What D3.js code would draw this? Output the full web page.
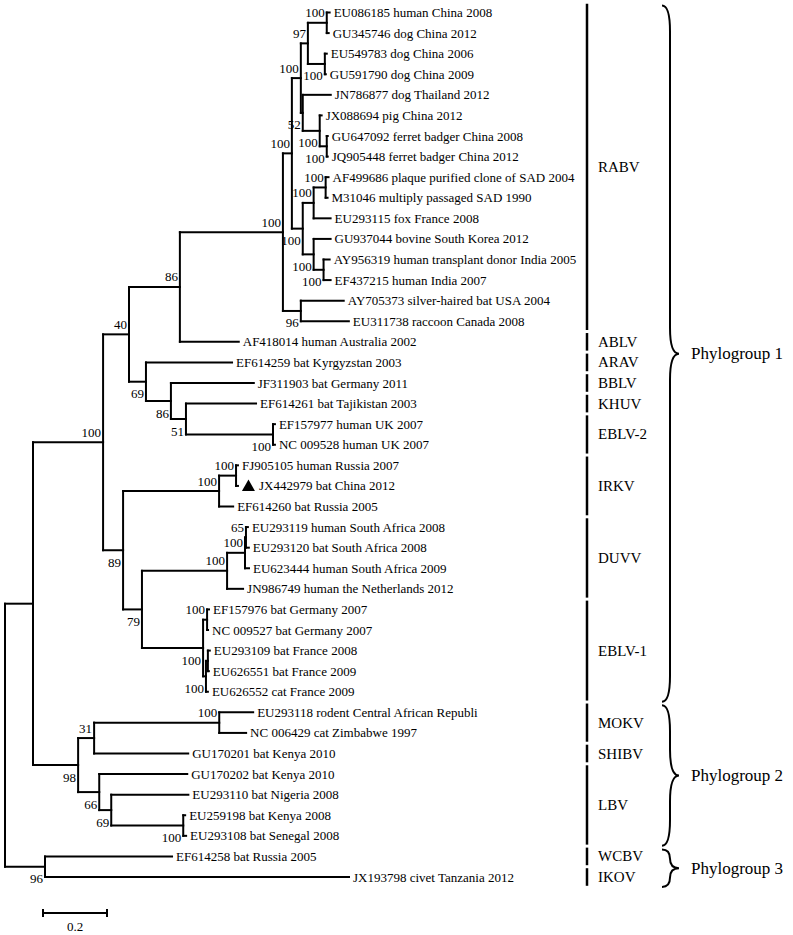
<!DOCTYPE html>
<html><head><meta charset="utf-8">
<script src="https://cdn.jsdelivr.net/npm/d3@7"></script>
<style>body{margin:0;background:#fff} svg{display:block}</style>
</head><body><svg id="c" width="793" height="935"></svg>
<script>
// internal nodes: [id, parent, branch length, bootstrap]
const internalNodes = [
 ["root", null, 0, null],
 ["PG12","root",0.0875,null],
 ["PG3","root",0.125,96],
 ["PG1","PG12",0.219,100],
 ["N98","PG12",0.141,98],
 ["N40","PG1",0.081,40],
 ["N89","PG1",0.0625,89],
 ["N86a","N40",0.159,86],
 ["N69","N40",0.053,69],
 ["RABV","N86a",0.322,100],
 ["U","RABV",0.028,100],
 ["N96","RABV",0.056,96],
 ["A4","U",0.028,100],
 ["S","U",0.034,100],
 ["A2","A4",0.022,97],
 ["N52","A4",0.006,52],
 ["A1","A2",0.059,100],
 ["A3","A2",0.053,100],
 ["A6","N52",0.053,100],
 ["A7","A6",0.022,100],
 ["S1","S",0.034,100],
 ["S2","S",0.034,100],
 ["S1a","S1",0.0375,100],
 ["S2a","S2",0.031,100],
 ["N86b","N69",0.078,86],
 ["N51","N86b",0.047,51],
 ["EBLV2","N51",0.272,100],
 ["IRKV","N89",0.300,100],
 ["IRKVi","IRKV",0.053,100],
 ["N79","N89",0.059,79],
 ["DUVV","N79",0.266,100],
 ["DUVVa","DUVV",0.056,100],
 ["DUVVb","DUVVa",0.003,65],
 ["EBLV1","N79",0.191,100],
 ["E1","EBLV1",0.0125,100],
 ["E2","EBLV1",0.009,100],
 ["E2a","E2",0.006,null],
 ["N31","N98",0.05,31],
 ["MOKV","N31",0.391,100],
 ["N66","N98",0.066,66],
 ["N69b","N66",0.0375,69],
 ["L100","N69b",0.225,100]
];
// tips in display order: [label, parent, branch length]
const tips = [
 ["EU086185 human China 2008","A1",0.009],
 ["GU345746 dog China 2012","A1",0.006],
 ["EU549783 dog China 2006","A3",0.006],
 ["GU591790 dog China 2009","A3",0.003],
 ["JN786877 dog Thailand 2012","N52",0.0875],
 ["JX088694 pig China 2012","A6",0.006],
 ["GU647092 ferret badger China 2008","A7",0.003],
 ["JQ905448 ferret badger China 2012","A7",0.003],
 ["AF499686 plaque purified clone of SAD 2004","S1a",0.009],
 ["M31046 multiply passaged SAD 1990","S1a",0.006],
 ["EU293115 fox France 2008","S1",0.053],
 ["GU937044 bovine South Korea 2012","S2",0.053],
 ["AY956319 human transplant donor India 2005","S2a",0.019],
 ["EF437215 human India 2007","S2a",0.022],
 ["AY705373 silver-haired bat USA 2004","N96",0.134],
 ["EU311738 raccoon Canada 2008","N96",0.150],
 ["AF418014 human Australia 2002","N86a",0.184],
 ["EF614259 bat Kyrgyzstan 2003","N69",0.269],
 ["JF311903 bat Germany 2011","N86b",0.259],
 ["EF614261 bat Tajikistan 2003","N51",0.219],
 ["EF157977 human UK 2007","EBLV2",0.006],
 ["NC 009528 human UK 2007","EBLV2",0.006],
 ["FJ905105 human Russia 2007","IRKVi",0.006],
 ["JX442979 bat China 2012","IRKVi",0.006],
 ["EF614260 bat Russia 2005","IRKV",0.044],
 ["EU293119 human South Africa 2008","DUVVb",0.006],
 ["EU293120 bat South Africa 2008","DUVVb",0.009],
 ["EU623444 human South Africa 2009","DUVVa",0.0125],
 ["JN986749 human the Netherlands 2012","DUVV",0.05],
 ["EF157976 bat Germany 2007","E1",0.006],
 ["NC 009527 bat Germany 2007","E1",0.003],
 ["EU293109 bat France 2008","E2a",0.006],
 ["EU626551 bat France 2009","E2a",0.003],
 ["EU626552 cat France 2009","E2",0.006],
 ["EU293118 rodent Central African Republi","MOKV",0.106],
 ["NC 006429 cat Zimbabwe 1997","MOKV",0.084],
 ["GU170201 bat Kenya 2010","N31",0.294],
 ["GU170202 bat Kenya 2010","N66",0.275],
 ["EU293110 bat Nigeria 2008","N69b",0.241],
 ["EU259198 bat Kenya 2008","L100",0.006],
 ["EU293108 bat Senegal 2008","L100",0.009],
 ["EF614258 bat Russia 2005","PG3",0.397],
 ["JX193798 civet Tanzania 2012","PG3",0.95]
];
const markedTip = "JX442979 bat China 2012";
const cladeNames = ["RABV","ABLV","ARAV","BBLV","KHUV","EBLV-2","IRKV","DUVV","EBLV-1","MOKV","SHIBV","LBV","WCBV","IKOV"];
const cladeSizes = [16,1,1,1,1,2,3,4,5,2,1,4,1,1];
const groupNames = ["Phylogroup 1","Phylogroup 2","Phylogroup 3"];
const groupSizes = [34,7,2];
const scaleBarValue = 0.2;

// ---- style / layout ----
const labelAbove = new Set(["A1","A2","A4","U","S1","S1a","RABV","N86a","N40","PG1","IRKV","IRKVi","DUVV","DUVVa","DUVVb","E1","N31","MOKV"]);
const serif = "'Liberation Serif','Times New Roman',serif";
const svg = d3.select("#c");

const nodes = internalNodes.map(d=>({id:d[0],parent:d[1],len:d[2],boot:d[3]}))
  .concat(tips.map(d=>({id:d[0],parent:d[1],len:d[2],boot:null,tip:true})));
const root = d3.stratify().id(d=>d.id).parentId(d=>d.parent)(nodes);
const tipIndex = new Map(tips.map((d,i)=>[d[0],i]));

const x = d3.scaleLinear().domain([0,1]).range([5,325]);
const y = d3.scaleLinear().domain([0,tips.length-1]).range([12.5,877]);

root.eachBefore(n=>{ n.dist = (n.parent? n.parent.dist:0) + n.data.len; n.px = x(n.dist); });
root.eachAfter(n=>{ n.py = n.children ? d3.mean(n.children,c=>c.py) : y(tipIndex.get(n.id)); });

const g = svg.append("g").attr("stroke","#000").attr("stroke-width",2).attr("stroke-linecap","square").attr("fill","none");
root.descendants().forEach(n=>{
  if(n.parent) g.append("line").attr("x1",n.parent.px).attr("x2",n.px).attr("y1",n.py).attr("y2",n.py);
  if(n.children){
    const ys = n.children.map(c=>c.py);
    g.append("line").attr("x1",n.px).attr("x2",n.px).attr("y1",d3.min(ys)).attr("y2",d3.max(ys));
  }
});

// bootstrap labels
root.descendants().filter(n=>n.data.boot!=null).forEach(n=>{
  const above = labelAbove.has(n.id);
  svg.append("text").attr("x",n.px-2).attr("y",n.py + (above?-5.5:16.5))
    .attr("text-anchor","end").attr("font-family",serif).attr("font-size",13).attr("fill","#000")
    .text(n.data.boot);
});

// tip labels
root.leaves().forEach(n=>{
  let tx = n.px + 4;
  if(n.id===markedTip){
    const cx = n.px + 10.5;
    svg.append("path").attr("d",`M${cx-6.5},${n.py+5}L${cx+6.5},${n.py+5}L${cx},${n.py-6.5}Z`).attr("fill","#000");
    tx = n.px + 21;
  }
  svg.append("text").attr("x",tx).attr("y",n.py+4.5).attr("font-family",serif).attr("font-size",13).attr("fill","#000").text(n.id);
});

// clade bars
let start = 0;
cladeNames.forEach((name,i)=>{
  const y0 = y(start)-8.8, y1 = y(start+cladeSizes[i]-1)+8.8;
  svg.append("line").attr("x1",587).attr("x2",587).attr("y1",y0).attr("y2",y1).attr("stroke","#000").attr("stroke-width",2.5);
  svg.append("text").attr("x",598).attr("y",(y0+y1)/2+5).attr("font-family",serif).attr("font-size",15).attr("fill","#000").text(name);
  start += cladeSizes[i];
});

// braces
start = 0;
groupNames.forEach((name,i)=>{
  const y0 = y(start)-7, y1 = y(start+groupSizes[i]-1)+10, ym=(y0+y1)/2, h=y1-y0;
  const q = Math.min(26,h/4), x0=662, x1=670, x2=679;
  const p = `M${x0},${y0}Q${x1},${y0} ${x1},${y0+q}L${x1},${ym-q}Q${x1},${ym} ${x2},${ym}Q${x1},${ym} ${x1},${ym+q}L${x1},${y1-q}Q${x1},${y1} ${x0},${y1}`;
  svg.append("path").attr("d",p).attr("fill","none").attr("stroke","#000").attr("stroke-width",2);
  svg.append("text").attr("x",691).attr("y",ym+5.5).attr("font-family",serif).attr("font-size",17).attr("fill","#000").text(name);
  start += groupSizes[i];
});

// scale bar
const sbx = 43, sby = 913, sbw = x(scaleBarValue)-x(0);
const sb = svg.append("g").attr("stroke","#000").attr("stroke-width",2);
sb.append("line").attr("x1",sbx).attr("x2",sbx+sbw).attr("y1",sby).attr("y2",sby);
sb.append("line").attr("x1",sbx).attr("x2",sbx).attr("y1",sby-4).attr("y2",sby+4);
sb.append("line").attr("x1",sbx+sbw).attr("x2",sbx+sbw).attr("y1",sby-4).attr("y2",sby+4);
svg.append("text").attr("x",sbx+sbw/2).attr("y",sby+18).attr("text-anchor","middle").attr("font-family",serif).attr("font-size",13).attr("fill","#000").text(scaleBarValue);
</script></body></html>
